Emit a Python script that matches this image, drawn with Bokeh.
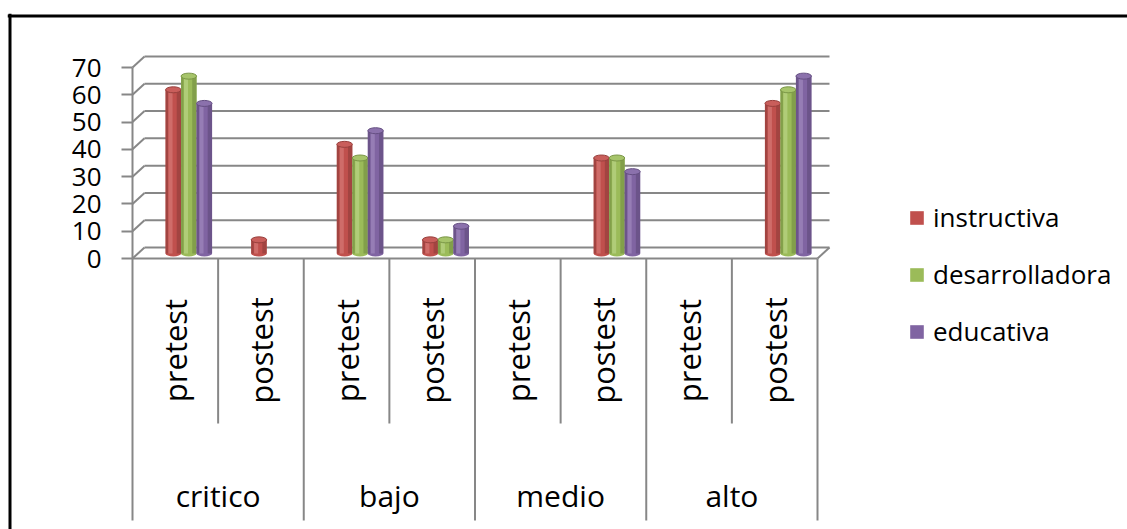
from math import pi

from bokeh.core.properties import value
from bokeh.embed import file_html
from bokeh.models import (ColumnDataSource, FixedTicker, Legend, LegendItem,
                          LinearAxis, Range1d, Span)
from bokeh.plotting import figure
from bokeh.resources import INLINE

# ---- data -------------------------------------------------------------
groups = ["critico", "bajo", "medio", "alto"]
phases = ["pretest", "postest"]
series_names = ["instructiva", "desarrolladora", "educativa"]

# one value per (group, phase) slot, in the order critico-pretest, critico-postest, ...
instructiva = [60, 5, 40, 5, 0, 35, 0, 55]
desarrolladora = [65, 0, 35, 5, 0, 35, 0, 60]
educativa = [55, 0, 45, 10, 0, 30, 0, 65]

y_ticks = [0, 10, 20, 30, 40, 50, 60, 70]

# ---- layout constants (pixels) ---------------------------------------
W, H = 1127, 529
FRAME_L, FRAME_T = 7, 13
X0_PX, SLOT_PX = 132.0, 685.0 / 8
Y0_PX, UNIT_PX = 258.0, 191.0 / 70


def xd(px):
    return (px - X0_PX) / SLOT_PX


def yd(px):
    return (Y0_PX - px) / UNIT_PX


DX = 12 / SLOT_PX          # depth shift of the back wall
DY = 11 / UNIT_PX
BAR_W = 15.5 / SLOT_PX
BAR_DX = 13.5 / SLOT_PX    # bars sit half way into the depth
BAR_DY = 5 / UNIT_PX
CAP_H = 6 / UNIT_PX

GRID = "#878787"
FONT = value("Open Sans")

p = figure(width=W, height=H, output_backend="svg", toolbar_location=None,
           x_axis_type=None, y_axis_type=None,
           x_range=Range1d(xd(FRAME_L), xd(W)), y_range=Range1d(yd(H), yd(FRAME_T)),
           min_border_left=FRAME_L, min_border_top=FRAME_T,
           min_border_right=0, min_border_bottom=0)
p.outline_line_color = None
p.background_fill_color = "white"
p.border_fill_color = "white"

n_slots = len(groups) * len(phases)

# ---- 3D walls: back-wall gridlines, left-wall connectors, floor -------
p.segment(x0=[DX] * len(y_ticks), y0=[t + DY for t in y_ticks],
          x1=[n_slots + DX] * len(y_ticks), y1=[t + DY for t in y_ticks],
          line_color=GRID, line_width=2)
p.segment(x0=[0] * len(y_ticks), y0=y_ticks,
          x1=[DX] * len(y_ticks), y1=[t + DY for t in y_ticks],
          line_color=GRID, line_width=2)
p.segment(x0=[0, n_slots], y0=[0, 0], x1=[n_slots, n_slots + DX], y1=[0, DY],
          line_color=GRID, line_width=2)

# ---- category separators below the floor -----------------------------
inner = [g * len(phases) + 1 for g in range(len(groups))]
outer = [g * len(phases) for g in range(len(groups) + 1)]
p.segment(x0=inner, y0=[0] * len(inner), x1=inner, y1=[yd(423)] * len(inner),
          line_color=GRID, line_width=2)
p.segment(x0=outer, y0=[0] * len(outer), x1=outer, y1=[yd(520)] * len(outer),
          line_color=GRID, line_width=2)

# ---- category labels ---------------------------------------------------
sub_x = [i + 0.5 for i in range(n_slots)]
sub_text = [phases[i % len(phases)] for i in range(n_slots)]
p.text(x=sub_x, y=[yd(350)] * n_slots, text=sub_text, angle=pi / 2,
       text_font=FONT, text_font_size="31px", text_align="center",
       text_baseline="middle", text_color="black")
grp_x = [g * len(phases) + len(phases) / 2 for g in range(len(groups))]
p.text(x=grp_x, y=[yd(495)] * len(groups), text=groups,
       text_font=FONT, text_font_size="30px", text_align="center",
       text_baseline="alphabetic", text_color="black")

# ---- cylinders ---------------------------------------------------------
palette = [
    # base, dark edge, highlight, top face
    ("#C0504D", "#98403D", "#D47573", "#C95E5B"),
    ("#9BBB59", "#7A9646", "#B7D183", "#A6C46A"),
    ("#8064A2", "#654F82", "#9D86BB", "#8B71AC"),
]
# shading strips: (offset from bar centre, width), both as fractions of the bar width
strips = [("x_l", -0.42, 0.16, 1), ("x_h", -0.18, 0.26, 2), ("x_r", 0.36, 0.28, 1)]

legend_items = []
for k, (name, vals) in enumerate(zip(series_names,
                                     [instructiva, desarrolladora, educativa])):
    base, dark, light, cap = palette[k]
    xs = [i + 0.5 + BAR_DX + (k - 1) * BAR_W for i, v in enumerate(vals) if v > 0]
    tops = [v + BAR_DY for v in vals if v > 0]
    data = dict(x=xs, top=tops, bottom=[BAR_DY] * len(xs))
    for col, off, _, _ in strips:
        data[col] = [x + off * BAR_W for x in xs]
    src = ColumnDataSource(data)

    p.ellipse(x="x", y="bottom", width=BAR_W, height=CAP_H, source=src,
              fill_color=base, line_color=None)
    r = p.vbar(x="x", top="top", bottom="bottom", width=BAR_W, source=src,
               fill_color=base, line_color=None)
    for col, _, frac, tone in strips:
        p.vbar(x=col, top="top", bottom="bottom", width=BAR_W * frac, source=src,
               fill_color=dark if tone == 1 else light, line_color=None,
               fill_alpha=0.75)
    p.ellipse(x="x", y="top", width=BAR_W, height=CAP_H, source=src,
              fill_color=cap, line_color=dark, line_width=1)
    legend_items.append(LegendItem(label=name, renderers=[r]))

# ---- y axis at the front-left edge ------------------------------------
yaxis = LinearAxis(fixed_location=0, bounds=(y_ticks[0], y_ticks[-1]),
                   ticker=FixedTicker(ticks=y_ticks))
yaxis.axis_line_color = GRID
yaxis.axis_line_width = 2
yaxis.major_tick_line_color = GRID
yaxis.major_tick_line_width = 2
yaxis.major_tick_out = 11
yaxis.major_tick_in = 0
yaxis.minor_tick_line_color = None
yaxis.major_label_standoff = 20
yaxis.major_label_text_font = "Open Sans"
yaxis.major_label_text_font_size = "26px"
yaxis.major_label_text_color = "black"
p.add_layout(yaxis, "left")

# ---- legend ------------------------------------------------------------
legend = Legend(items=legend_items, location=(901, 180), orientation="vertical",
                glyph_width=17, glyph_height=17, label_standoff=8, spacing=21,
                padding=0, margin=0, border_line_color=None,
                background_fill_alpha=0, label_text_font="Open Sans",
                label_text_font_size="26px", label_text_color="black")
p.add_layout(legend)

# ---- outer border (top and left edges) --------------------------------
p.add_layout(Span(location=yd(15.5), dimension="width", line_color="black", line_width=3))
p.add_layout(Span(location=xd(9.5), dimension="height", line_color="black", line_width=3))

open("out.html", "w").write(file_html(p, INLINE))
